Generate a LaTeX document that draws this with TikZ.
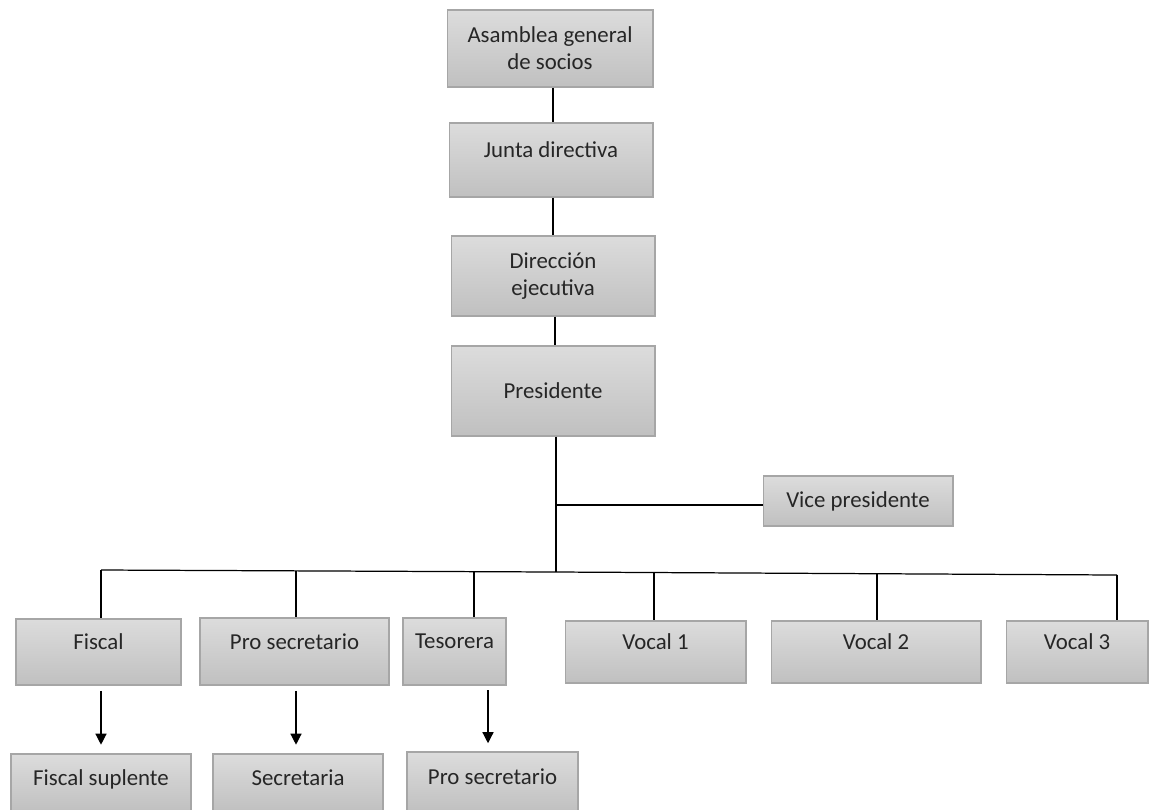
\documentclass[tikz,border=0pt]{standalone}
\usepackage{fontspec}
\setmainfont{Carlito}
\usetikzlibrary{arrows.meta,positioning}
\definecolor{boxtop}{RGB}{220,220,220}
\definecolor{boxbot}{RGB}{192,192,192}
\definecolor{boxline}{RGB}{166,166,166}
\begin{document}
\begin{tikzpicture}[
  x=0.02cm, y=-0.02cm,
  orgbox/.style={draw=boxline,line width=0.6pt,top color=boxtop,bottom color=boxbot,align=center,inner sep=2pt,
    font=\fontsize{13}{15.5}\selectfont,text=black!85},
  uptext/.style={text depth=4mm},
  arr/.style={-{Triangle[length=2.2mm,width=2.2mm]},line width=0.7pt},
  link/.style={line width=0.7pt}
]
\useasboundingbox (0,0) rectangle (1151,809);
\node[orgbox,minimum width=4.12cm,minimum height=1.54cm] (asamblea) at (550,48.5) {Asamblea general\\de socios};
\node[orgbox,uptext,minimum width=4.08cm,minimum height=1.48cm] (junta) at (551,160) {Junta directiva};
\node[orgbox,minimum width=4.08cm,minimum height=1.6cm] (direccion) at (553,276) {Dirección\\ejecutiva};
\node[orgbox,minimum width=4.08cm,minimum height=1.8cm] (presidente) at (553,391) {Presidente};
\node[orgbox,minimum width=3.8cm,minimum height=1.0cm] (vice) at (858,501) {Vice presidente};
\node[orgbox,uptext,minimum width=3.3cm,minimum height=1.32cm] (fiscal) at (98.5,652) {Fiscal};
\node[orgbox,uptext,minimum width=3.78cm,minimum height=1.34cm] (prosec) at (294.5,651.5) {Pro secretario};
\node[orgbox,uptext,minimum width=2.06cm,minimum height=1.34cm] (tesorera) at (454.5,651.5) {Tesorera};
\node[orgbox,uptext,minimum width=3.62cm,minimum height=1.24cm] (vocal1) at (655.5,652) {Vocal 1};
\node[orgbox,uptext,minimum width=4.2cm,minimum height=1.24cm] (vocal2) at (876,652) {Vocal 2};
\node[orgbox,uptext,minimum width=2.84cm,minimum height=1.24cm] (vocal3) at (1077,652) {Vocal 3};
\node[orgbox,minimum width=3.6cm,minimum height=1.16cm,text depth=2.2mm] (suplente) at (101,783) {Fiscal suplente};
\node[orgbox,minimum width=3.4cm,minimum height=1.16cm,text depth=2.2mm] (secretaria) at (298,783) {Secretaria};
\node[orgbox,minimum width=3.42cm,minimum height=1.2cm,text depth=2.2mm] (prosec2) at (492.5,782) {Pro secretario};
% vertical chain
\draw[link] (asamblea.south -| 553,0) -- (junta.north -| 553,0);
\draw[link] (junta.south -| 553,0) -- (direccion.north -| 553,0);
\draw[link] (direccion.south -| 555,0) -- (presidente.north -| 555,0);
% bus
\coordinate (vjoin) at (556,505);
\coordinate (bus) at (556,572);
\coordinate (busL) at (101,570);
\coordinate (busR) at (1117,575);
\draw[link] (presidente.south -| bus) -- (bus);
\draw[link] (vjoin) -- (vice.west |- vjoin);
\draw[link] (busL) -- (bus) -- (busR);
\coordinate (d1) at (101,570);
\coordinate (d2) at (296,571);
\coordinate (d3) at (474,572);
\coordinate (d4) at (654,573);
\coordinate (d5) at (877,574);
\draw[link] (d1) -- (d1 |- fiscal.north);
\draw[link] (d2) -- (d2 |- prosec.north);
\draw[link] (d3) -- (d3 |- tesorera.north);
\draw[link] (d4) -- (d4 |- vocal1.north);
\draw[link] (d5) -- (d5 |- vocal2.north);
\draw[link] (busR) -- (busR |- vocal3.north);
% arrows to the lower row
\draw[arr,shorten <=3pt,shorten >=5pt] (suplente.north |- fiscal.south) -- (suplente.north);
\draw[arr,shorten <=3pt,shorten >=5pt] (d2 |- prosec.south) -- (d2 |- secretaria.north);
\draw[arr,shorten <=3pt,shorten >=5pt] (488,685) -- (488,752);
\end{tikzpicture}
\end{document}
